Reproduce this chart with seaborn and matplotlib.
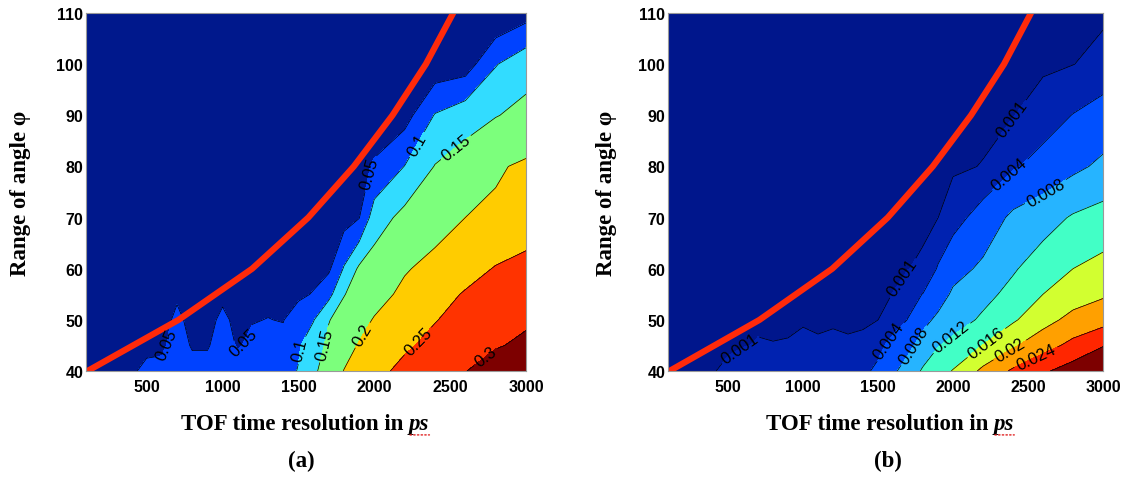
import numpy as np
import matplotlib
matplotlib.use('Agg')
import matplotlib.pyplot as plt
import seaborn as sns

sns.set_theme(style='white')
plt.rcParams['font.family'] = ['Liberation Sans', 'DejaVu Sans']
plt.rcParams['text.color'] = 'black'
plt.rcParams['axes.labelcolor'] = 'black'
plt.rcParams['xtick.color'] = 'black'
plt.rcParams['ytick.color'] = 'black'

# grid: TOF resolution (ps) and range of angle phi
tof = [100, 400, 500, 600, 700, 800, 900, 1000, 1100, 1200, 1300, 1400,
       1500, 1600, 1700, 1800, 1900, 2000, 2200, 2400, 2600, 2800, 3000]
phi = [40, 45, 50, 55, 60, 70, 80, 90, 100, 110]

# panel (a), one row per phi value
z_a = [
    [0.020, 0.047, 0.055, 0.056, 0.062, 0.058, 0.058, 0.062, 0.060, 0.068, 0.075, 0.085, 0.102, 0.142, 0.172, 0.201, 0.217, 0.236, 0.2625, 0.281, 0.299, 0.318, 0.336],
    [0.015, 0.035, 0.045, 0.046, 0.060, 0.048, 0.048, 0.060, 0.048, 0.055, 0.056, 0.058, 0.095, 0.127, 0.160, 0.185, 0.203, 0.218, 0.243, 0.263, 0.281, 0.297, 0.307],
    [0.012, 0.028, 0.035, 0.040, 0.056, 0.042, 0.043, 0.055, 0.044, 0.049, 0.0505, 0.049, 0.066, 0.098, 0.148, 0.168, 0.185, 0.203, 0.225, 0.248, 0.266, 0.282, 0.295],
    [0.010, 0.022, 0.028, 0.032, 0.046, 0.035, 0.036, 0.045, 0.038, 0.042, 0.045, 0.042, 0.044, 0.052, 0.085, 0.148, 0.168, 0.183, 0.210, 0.232, 0.254, 0.272, 0.287],
    [0.008, 0.018, 0.022, 0.026, 0.030, 0.030, 0.031, 0.034, 0.033, 0.035, 0.037, 0.037, 0.038, 0.040, 0.042, 0.104, 0.158, 0.172, 0.196, 0.214, 0.232, 0.253, 0.270],
    [0.005, 0.012, 0.015, 0.018, 0.020, 0.022, 0.023, 0.025, 0.026, 0.027, 0.028, 0.029, 0.030, 0.032, 0.034, 0.030, 0.048, 0.125, 0.165, 0.180, 0.200, 0.207, 0.213],
    [0.003, 0.008, 0.010, 0.012, 0.013, 0.014, 0.015, 0.016, 0.017, 0.018, 0.019, 0.020, 0.021, 0.022, 0.023, 0.025, 0.035, 0.055, 0.101, 0.152, 0.172, 0.195, 0.207],
    [0.002, 0.005, 0.006, 0.007, 0.008, 0.009, 0.010, 0.011, 0.012, 0.012, 0.013, 0.014, 0.015, 0.016, 0.017, 0.018, 0.020, 0.025, 0.030, 0.103, 0.130, 0.148, 0.162],
    [0.001, 0.003, 0.004, 0.004, 0.005, 0.005, 0.006, 0.006, 0.007, 0.007, 0.008, 0.008, 0.009, 0.009, 0.010, 0.010, 0.011, 0.012, 0.015, 0.018, 0.025, 0.097, 0.133],
    [0.001, 0.002, 0.002, 0.002, 0.003, 0.003, 0.003, 0.003, 0.004, 0.004, 0.004, 0.004, 0.004, 0.005, 0.005, 0.005, 0.005, 0.005, 0.005, 0.005, 0.008, 0.005, 0.030],
]

# panel (b)
z_b = [
    [0.0003, 0.00092, 0.0013, 0.0016, 0.0019, 0.0020, 0.0021, 0.0023, 0.0024, 0.0026, 0.0029, 0.0034, 0.0046, 0.0073, 0.0098, 0.0125, 0.0145, 0.0162, 0.0209, 0.0246, 0.0274, 0.0298, 0.0320],
    [0.0002, 0.0006, 0.0008, 0.00095, 0.00105, 0.00102, 0.00105, 0.0012, 0.00108, 0.00115, 0.00108, 0.00113, 0.0032, 0.0050, 0.0069, 0.0096, 0.0118, 0.0131, 0.0161, 0.0195, 0.0224, 0.0251, 0.0278],
    [0.0001, 0.0004, 0.0005, 0.0006, 0.0009, 0.0009, 0.00088, 0.00092, 0.0009, 0.00092, 0.0009, 0.00092, 0.00099, 0.0026, 0.0041, 0.0069, 0.0088, 0.0103, 0.0126, 0.0155, 0.0186, 0.0212, 0.0225],
    [0.0001, 0.0003, 0.0004, 0.0005, 0.0006, 0.0006, 0.0006, 0.0007, 0.0007, 0.0007, 0.0007, 0.0007, 0.0008, 0.00102, 0.0028, 0.0041, 0.0062, 0.0086, 0.0109, 0.0131, 0.0160, 0.0181, 0.0195],
    [0.0001, 0.0002, 0.0003, 0.0004, 0.0004, 0.0005, 0.0005, 0.0005, 0.0005, 0.0006, 0.0006, 0.0006, 0.0007, 0.0008, 0.00095, 0.0014, 0.0043, 0.0066, 0.0087, 0.0116, 0.0139, 0.0160, 0.0172],
    [0.0001, 0.0001, 0.0002, 0.0002, 0.0003, 0.0003, 0.0003, 0.0003, 0.0004, 0.0004, 0.0004, 0.0004, 0.0005, 0.0005, 0.0005, 0.0005, 0.00098, 0.0026, 0.0056, 0.0088, 0.0104, 0.0124, 0.0135],
    [0.0001, 0.0001, 0.0001, 0.0001, 0.0002, 0.0002, 0.0002, 0.0002, 0.0002, 0.0003, 0.0003, 0.0003, 0.0003, 0.0003, 0.0004, 0.0004, 0.0004, 0.0006, 0.0011, 0.0036, 0.0052, 0.0071, 0.0088],
    [0.0000, 0.0001, 0.0001, 0.0001, 0.0001, 0.0001, 0.0001, 0.0001, 0.0002, 0.0002, 0.0002, 0.0002, 0.0002, 0.0002, 0.0002, 0.0003, 0.0003, 0.0003, 0.0004, 0.0009, 0.0025, 0.0041, 0.0055],
    [0.0000, 0.0000, 0.0001, 0.0001, 0.0001, 0.0001, 0.0001, 0.0001, 0.0001, 0.0001, 0.0001, 0.0001, 0.0001, 0.0001, 0.0002, 0.0002, 0.0002, 0.0002, 0.0003, 0.0004, 0.0005, 0.00095, 0.0018],
    [0.0000, 0.0000, 0.0000, 0.0000, 0.0000, 0.0000, 0.0000, 0.0000, 0.0001, 0.0001, 0.0001, 0.0001, 0.0001, 0.0001, 0.0001, 0.0001, 0.0001, 0.0001, 0.0002, 0.0002, 0.0003, 0.0004, 0.0006],
]

levels_a = [0, 0.05, 0.1, 0.15, 0.2, 0.25, 0.3, 0.4]
levels_b = [0, 0.001, 0.004, 0.008, 0.012, 0.016, 0.02, 0.024, 0.028, 0.04]
colors_a = ['#00188c', '#0042ff', '#32dcff', '#7cff7c', '#ffcc00', '#ff3300', '#7d0000']
colors_b = ['#00168c', '#0022b0', '#0050ff', '#26b4ff', '#42ffc6', '#d2ff30', '#ffa000', '#ff2600', '#7d0000']

# red boundary curve
red_phi = [40, 50, 60, 70, 80, 90, 100, 110]
red_tof = [110, 710, 1195, 1565, 1865, 2120, 2340, 2520]

# where the contour labels sit
labels_a = [(660, 45), (1150, 45.5), (1547, 44), (1718, 45), (1935, 46.8),
            (2320, 45), (2766, 41.5), (1995, 78.5), (2335, 83.4), (2565, 82.7)]
labels_b = [(616, 42.5), (1600, 45.3), (1767, 44.5), (1990, 46.5), (2222, 45.5),
            (2390, 43.6), (2555, 42.6), (1683, 57.9), (2424, 88.6), (2367, 78.8),
            (2628, 74.5)]

serif = ['Liberation Serif', 'DejaVu Serif']

fig = plt.figure(figsize=(11.35, 4.85), dpi=100)
ax_a = fig.add_axes([86 / 1135, 113 / 485, 440 / 1135, 358 / 485])
ax_b = fig.add_axes([668 / 1135, 113 / 485, 435 / 1135, 358 / 485])


def panel(ax, z, levels, colors, label_pos, tag, xl_x, yl_x, tag_x):
    ax.contourf(tof, phi, np.array(z), levels=levels, colors=colors)
    cs = ax.contour(tof, phi, np.array(z), levels=levels[1:-1],
                    colors='black', linewidths=0.5)
    ax.clabel(cs, fmt='%g', manual=label_pos, fontsize=12, inline=True,
              inline_spacing=3)
    sns.lineplot(x=red_tof, y=red_phi, ax=ax, color='#ff2a0a', lw=4.5,
                 estimator=None, sort=False)
    ax.set_xlim(100, 3000)
    ax.set_ylim(40, 110)
    ax.set_xticks([500, 1000, 1500, 2000, 2500, 3000])
    ax.set_yticks(range(40, 111, 10))
    ax.tick_params(direction='in', top=True, right=True, length=4, width=0.6,
                   color='#444444', labelsize=11.5, labelcolor='black')
    ax.tick_params(axis='x', pad=6)
    ax.tick_params(axis='y', pad=2)
    for lab in ax.get_xticklabels() + ax.get_yticklabels():
        lab.set_fontweight('bold')
    for sp in ax.spines.values():
        sp.set_color('#999999')
        sp.set_linewidth(0.8)
    ax.set_ylabel('Range of angle φ', family=serif, fontweight='bold',
                  fontsize=16.5)
    ax.yaxis.set_label_coords(yl_x, 0.5)
    xl = ax.set_xlabel('TOF time resolution in ', family=serif,
                       fontweight='bold', fontsize=16.5, va='center')
    ax.xaxis.set_label_coords(xl_x, -0.148)
    ps = ax.annotate('ps', xy=(1, 0.5), xycoords=xl, va='center', ha='left',
                     family=serif, fontweight='bold', style='italic',
                     fontsize=16.5)
    # red spell-check squiggle under "ps"
    ax.annotate('', xy=(1, -0.02), xycoords=ps, xytext=(0.05, -0.02),
                textcoords=ps,
                arrowprops=dict(arrowstyle='-', color='#e02020', lw=1.0,
                                ls=':', shrinkA=0, shrinkB=0))
    ax.text(tag_x, -0.25, tag, transform=ax.transAxes, ha='center',
            va='center', family=serif, fontweight='bold', fontsize=16.5)


panel(ax_a, z_a, levels_a, colors_a, labels_a, '(a)', 0.475, -0.125, 0.49)
panel(ax_b, z_b, levels_b, colors_b, labels_b, '(b)', 0.487, -0.117, 0.506)

fig.savefig('out.png', dpi=100)
